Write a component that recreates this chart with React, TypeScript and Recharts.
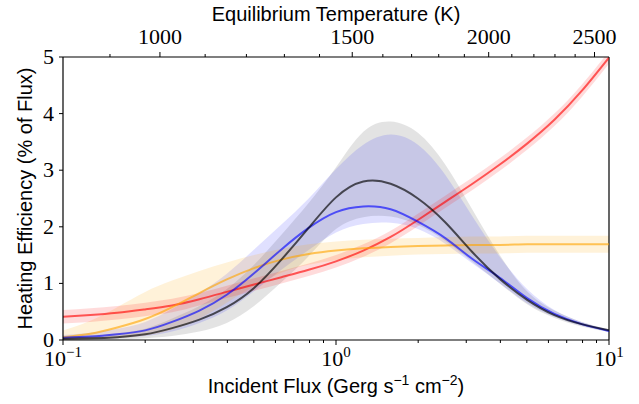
import { ComposedChart, Line, Area, XAxis, YAxis, ReferenceLine } from "recharts";

// incident flux samples (Gerg s^-1 cm^-2), log spaced
const flux = [0.1, 0.126, 0.158, 0.2, 0.251, 0.316, 0.398, 0.501, 0.631, 0.794, 1, 1.259, 1.585, 1.995, 2.512, 3.162, 3.981, 5.012, 6.31, 7.943, 10];

// heating efficiency (% of flux)
const red = [0.41, 0.44, 0.48, 0.54, 0.61, 0.72, 0.85, 0.98, 1.11, 1.24, 1.39, 1.58, 1.82, 2.12, 2.44, 2.76, 3.1, 3.47, 3.89, 4.4, 4.99];
const redLo = [0.29, 0.32, 0.36, 0.42, 0.49, 0.61, 0.74, 0.87, 1.0, 1.13, 1.28, 1.47, 1.71, 2.01, 2.33, 2.65, 2.99, 3.36, 3.78, 4.29, 4.88];
const redHi = [0.53, 0.56, 0.6, 0.66, 0.73, 0.83, 0.96, 1.09, 1.22, 1.35, 1.5, 1.69, 1.93, 2.23, 2.55, 2.87, 3.21, 3.58, 4.0, 4.51, 5.1];

const orange = [0.05, 0.11, 0.22, 0.37, 0.58, 0.83, 1.07, 1.27, 1.42, 1.52, 1.58, 1.62, 1.645, 1.66, 1.67, 1.68, 1.68, 1.69, 1.69, 1.69, 1.69];
const orangeLo = [0.0, 0.01, 0.03, 0.08, 0.18, 0.38, 0.66, 0.95, 1.19, 1.33, 1.41, 1.46, 1.49, 1.51, 1.52, 1.53, 1.53, 1.54, 1.54, 1.54, 1.54];
const orangeHi = [0.17, 0.34, 0.58, 0.85, 1.05, 1.22, 1.37, 1.5, 1.61, 1.69, 1.74, 1.77, 1.79, 1.8, 1.82, 1.83, 1.83, 1.84, 1.84, 1.84, 1.84];

const blue = [0.04, 0.06, 0.1, 0.17, 0.32, 0.52, 0.8, 1.18, 1.6, 1.98, 2.26, 2.36, 2.31, 2.09, 1.8, 1.43, 1.1, 0.74, 0.46, 0.28, 0.16];
const blueLo = [0.0, 0.01, 0.03, 0.07, 0.15, 0.3, 0.52, 0.86, 1.24, 1.59, 1.9, 2.05, 2.07, 1.96, 1.7, 1.35, 1.0, 0.65, 0.41, 0.25, 0.14];
const blueHi = [0.09, 0.13, 0.2, 0.32, 0.55, 0.83, 1.17, 1.6, 2.04, 2.5, 3.02, 3.45, 3.63, 3.45, 2.92, 2.18, 1.47, 0.9, 0.53, 0.32, 0.18];

const gray = [0.02, 0.03, 0.05, 0.1, 0.21, 0.36, 0.58, 0.92, 1.42, 1.98, 2.52, 2.8, 2.76, 2.5, 2.08, 1.55, 1.08, 0.71, 0.44, 0.28, 0.17];
const grayLo = [0.0, 0.0, 0.01, 0.03, 0.07, 0.15, 0.3, 0.6, 1.02, 1.48, 1.96, 2.17, 2.18, 2.03, 1.75, 1.38, 1.0, 0.63, 0.39, 0.24, 0.14];
const grayHi = [0.06, 0.08, 0.12, 0.2, 0.38, 0.6, 0.9, 1.33, 1.86, 2.42, 3.05, 3.68, 3.86, 3.66, 3.1, 2.3, 1.5, 0.86, 0.52, 0.32, 0.19];

// axes
const fluxTicks = [0.1, 0.2, 0.3, 0.4, 0.5, 0.6, 0.7, 0.8, 0.9, 1, 2, 3, 4, 5, 6, 7, 8, 9, 10];
const fluxMajor = [0.1, 1, 10];
const yTicks = [0, 1, 2, 3, 4, 5];
const tempTicks = [900, 1000, 1100, 1200, 1300, 1400, 1500, 1600, 1700, 1800, 1900, 2000, 2100, 2200, 2300, 2400, 2500];
const tempMajor = [1000, 1500, 2000, 2500];
const T0 = 1449.5; // Teq at 1 Gerg s^-1 cm^-2

const data = flux.map((f, i) => ({
  f,
  red: red[i],
  redBand: [redLo[i], redHi[i]],
  orange: orange[i],
  orangeBand: [orangeLo[i], orangeHi[i]],
  blue: blue[i],
  blueBand: [blueLo[i], blueHi[i]],
  gray: gray[i],
  grayBand: [grayLo[i], grayHi[i]],
}));

const serif = "'Liberation Serif', 'Times New Roman', serif";
const sans = "'Liberation Sans', Arial, Helvetica, sans-serif";

function BottomTick(props: any) {
  const { x, y, payload } = props;
  const v = payload.value;
  const major = fluxMajor.some((m) => Math.abs(m - v) < 1e-9);
  const exp = Math.round(Math.log10(v));
  return (
    <g>
      <line x1={x} x2={x} y1={y} y2={y + (major ? 5 : 3)} stroke="#000" strokeWidth={1} />
      {major && (
        <text x={x} y={y + 26} textAnchor="middle" fontFamily={serif} fontSize={22} fill="#000">
          10
          <tspan dy={-9} fontSize={15}>{exp < 0 ? "\u2212" + -exp : String(exp)}</tspan>
        </text>
      )}
    </g>
  );
}

function TopTick(props: any) {
  const { x, y, payload } = props;
  const t = Math.round((T0 * Math.pow(payload.value, 0.25)) / 100) * 100;
  const major = tempMajor.includes(t);
  return (
    <g>
      <line x1={x} x2={x} y1={y} y2={y - (major ? 5 : 3)} stroke="#000" strokeWidth={1} />
      {major && (
        <text x={x} y={y - 13} textAnchor="middle" fontFamily={serif} fontSize={22} fill="#000">
          {t}
        </text>
      )}
    </g>
  );
}

function LeftTick(props: any) {
  const { x, y, payload } = props;
  return (
    <g>
      <line x1={x - 4} x2={x} y1={y} y2={y} stroke="#000" strokeWidth={1} />
      <text x={x - 9} y={y + 7} textAnchor="end" fontFamily={serif} fontSize={22} fill="#000">
        {payload.value}
      </text>
    </g>
  );
}

function BottomTitle(props: any) {
  const vb = props.viewBox || { x: 63, y: 340, width: 546, height: 64 };
  return (
    <text x={vb.x + vb.width / 2} y={vb.y + 53} textAnchor="middle" fontFamily={sans} fontSize={20} fill="#000">
      Incident Flux (Gerg s
      <tspan dy={-8} fontSize={14}>{"\u22121"}</tspan>
      <tspan dy={8}> cm</tspan>
      <tspan dy={-8} fontSize={14}>{"\u22122"}</tspan>
      <tspan dy={8}>)</tspan>
    </text>
  );
}

function TopTitle(props: any) {
  const vb = props.viewBox || { x: 63, y: 0, width: 546, height: 57 };
  return (
    <text x={vb.x + vb.width / 2} y={vb.y + 21} textAnchor="middle" fontFamily={sans} fontSize={20} fill="#000">
      Equilibrium Temperature (K)
    </text>
  );
}

function LeftTitle(props: any) {
  const vb = props.viewBox || { x: 0, y: 57, width: 63, height: 283 };
  const cx = vb.x + 25;
  const cy = vb.y + vb.height / 2;
  return (
    <text x={cx} y={cy} transform={`rotate(-90 ${cx} ${cy})`} textAnchor="middle" dominantBaseline="central" fontFamily={sans} fontSize={20} fill="#000">
      Heating Efficiency (% of Flux)
    </text>
  );
}

export default function App() {
  return (
    <div style={{ position: "absolute", left: 0, top: 0, width: 639, height: 404, background: "#fff" }}>
      <ComposedChart width={639} height={404} data={data} margin={{ top: 0, right: 30, bottom: 0, left: 0 }}>
        <XAxis
          xAxisId="bottom"
          dataKey="f"
          type="number"
          scale="log"
          domain={[0.1, 10]}
          allowDataOverflow
          ticks={fluxTicks}
          interval={0}
          tick={<BottomTick />}
          tickLine={false}
          tickSize={0}
          tickMargin={0}
          axisLine={{ stroke: "#000", strokeWidth: 1.2 }}
          height={64}
          label={<BottomTitle />}
        />
        <XAxis
          xAxisId="top"
          orientation="top"
          dataKey="f"
          type="number"
          scale="log"
          domain={[0.1, 10]}
          allowDataOverflow
          ticks={tempTicks.map((t) => Math.pow(t / T0, 4))}
          interval={0}
          tick={<TopTick />}
          tickLine={false}
          tickSize={0}
          tickMargin={0}
          axisLine={{ stroke: "#000", strokeWidth: 1.2 }}
          height={57}
          label={<TopTitle />}
        />
        <YAxis
          type="number"
          domain={[0, 5]}
          allowDataOverflow
          ticks={yTicks}
          interval={0}
          tick={<LeftTick />}
          tickLine={false}
          tickSize={0}
          tickMargin={0}
          axisLine={{ stroke: "#000", strokeWidth: 1.2 }}
          width={63}
          label={<LeftTitle />}
        />
        <ReferenceLine xAxisId="bottom" x={10} stroke="#000" strokeWidth={1.2} />

        <Area xAxisId="bottom" type="natural" dataKey="grayBand" stroke="none" fill="#000000" fillOpacity={0.11} isAnimationActive={false} activeDot={false} />
        <Area xAxisId="bottom" type="natural" dataKey="blueBand" stroke="none" fill="#0000ff" fillOpacity={0.12} isAnimationActive={false} activeDot={false} />
        <Area xAxisId="bottom" type="natural" dataKey="orangeBand" stroke="none" fill="#ffa500" fillOpacity={0.15} isAnimationActive={false} activeDot={false} />
        <Area xAxisId="bottom" type="natural" dataKey="redBand" stroke="none" fill="#ff0000" fillOpacity={0.14} isAnimationActive={false} activeDot={false} />

        <Line xAxisId="bottom" type="natural" dataKey="red" stroke="#ff0000" strokeOpacity={0.62} strokeWidth={2} dot={false} activeDot={false} isAnimationActive={false} />
        <Line xAxisId="bottom" type="natural" dataKey="orange" stroke="#ffa500" strokeOpacity={0.62} strokeWidth={2} dot={false} activeDot={false} isAnimationActive={false} />
        <Line xAxisId="bottom" type="natural" dataKey="blue" stroke="#0000ff" strokeOpacity={0.62} strokeWidth={2} dot={false} activeDot={false} isAnimationActive={false} />
        <Line xAxisId="bottom" type="natural" dataKey="gray" stroke="#000000" strokeOpacity={0.65} strokeWidth={2} dot={false} activeDot={false} isAnimationActive={false} />
      </ComposedChart>
    </div>
  );
}
